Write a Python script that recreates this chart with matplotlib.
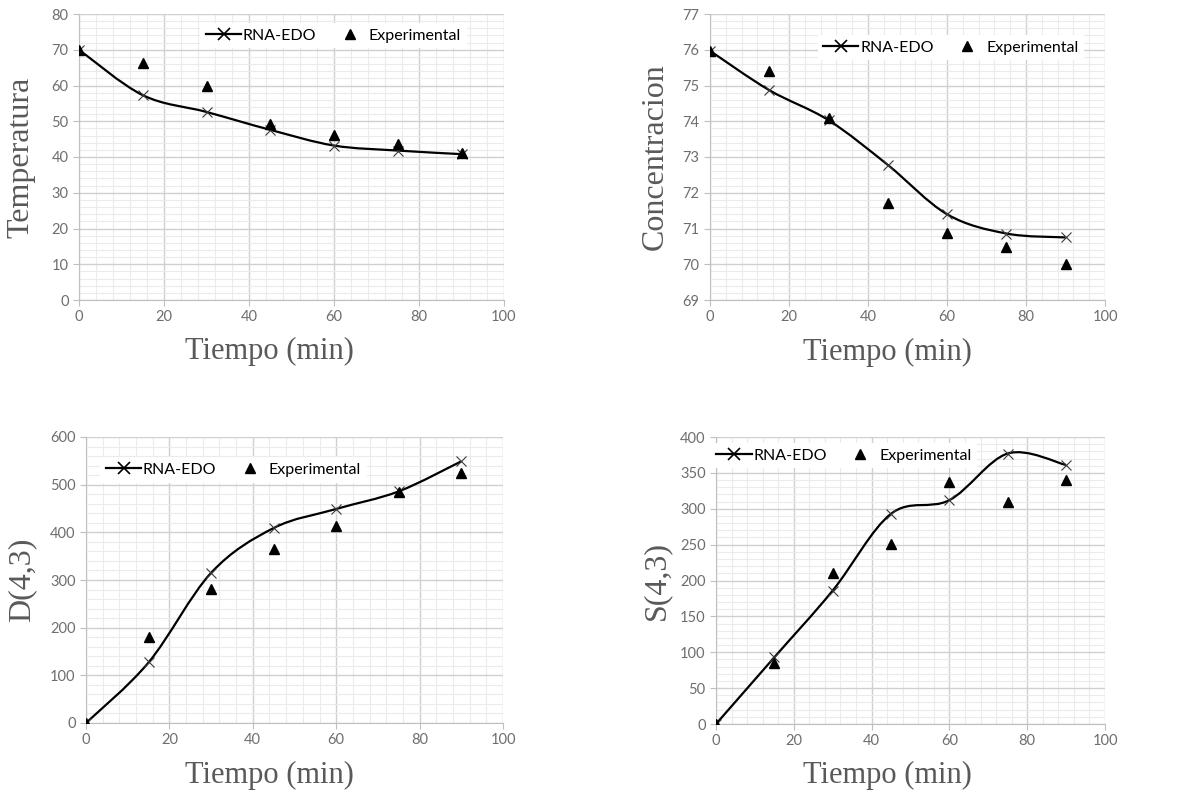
import numpy as np
import matplotlib.pyplot as plt
from matplotlib.path import Path
from matplotlib.patches import PathPatch
from matplotlib.lines import Line2D
from matplotlib.ticker import MultipleLocator, AutoMinorLocator

tiempo = [0, 15, 30, 45, 60, 75, 90]

temp_rna = [70, 57.3, 52.6, 47.6, 43.2, 41.8, 40.8]
temp_exp = [70, 66.2, 60.0, 49.1, 46.2, 43.6, 41.0]

conc_rna = [75.97, 74.87, 74.03, 72.78, 71.40, 70.86, 70.75]
conc_exp = [75.97, 75.40, 74.08, 71.70, 70.88, 70.49, 70.0]

d43_rna = [0, 127, 315, 409, 449, 486, 549]
d43_exp = [0, 180, 281, 364, 414, 485, 524]

s43_rna = [0, 93, 186, 293, 312, 377, 361]
s43_exp = [0, 85, 210, 251, 337, 310, 340]

W, H = 1202, 795
GRAY = '#595959'


def smooth_path(x, y):
    # Excel-style smoothed line: cubic Bezier segments (Catmull-Rom, tension 1/6)
    p = np.column_stack([x, y]).astype(float)
    ext = np.vstack([p[0], p, p[-1]])
    verts = [p[0]]
    codes = [Path.MOVETO]
    for i in range(len(p) - 1):
        p0, p1, p2, p3 = ext[i], ext[i + 1], ext[i + 2], ext[i + 3]
        c1 = p1 + (p2 - p0) / 6
        c2 = p2 - (p3 - p1) / 6
        verts += [c1, c2, p2]
        codes += [Path.CURVE4] * 3
    return Path(verts, codes)


def panel(box, yrng, ystep, ylabel, rna, exp, leg_xy, ylab_x, xlab_xy):
    l, t, r, b = box
    ax = fig.add_axes([l / W, 1 - b / H, (r - l) / W, (b - t) / H])
    ax.set_xlim(0, 100)
    ax.set_ylim(*yrng)
    ax.xaxis.set_major_locator(MultipleLocator(20))
    ax.yaxis.set_major_locator(MultipleLocator(ystep))
    ax.xaxis.set_minor_locator(AutoMinorLocator(5))
    ax.yaxis.set_minor_locator(AutoMinorLocator(5))
    ax.grid(which='major', color='#d0d0d0', lw=1.0)
    ax.grid(which='minor', color='#ebebeb', lw=0.8)
    ax.set_axisbelow(True)
    for s in ['top', 'right']:
        ax.spines[s].set_visible(False)
    for s in ['left', 'bottom']:
        ax.spines[s].set_color('#bfbfbf')
    ax.tick_params(which='major', colors='#bfbfbf', labelcolor='#6e6e6e',
                   labelsize=10.5, length=4)
    ax.tick_params(which='minor', length=0)
    for lab in ax.get_xticklabels() + ax.get_yticklabels():
        lab.set_fontfamily('Lato')

    ax.add_patch(PathPatch(smooth_path(tiempo, rna), fill=False,
                           edgecolor='black', lw=1.6, zorder=3))
    ax.plot(tiempo, rna, linestyle='none', marker='x', ms=7, mew=0.8,
            color='#3a3a3a', zorder=4)
    ax.plot(tiempo, exp, linestyle='none', marker='^', ms=6.5,
            color='black', zorder=5)

    handles = [Line2D([], [], color='black', lw=1.6, marker='x', ms=8, mew=1.2),
               Line2D([], [], linestyle='none', marker='^', ms=7, color='black')]
    leg = ax.legend(handles, ['RNA-EDO', 'Experimental'], ncol=2,
                    loc='center', bbox_to_anchor=leg_xy, frameon=True,
                    fancybox=False, edgecolor='white', framealpha=1,
                    prop={'family': 'Lato', 'size': 11.5},
                    handlelength=2.2, columnspacing=1.0, handletextpad=0.1,
                    borderpad=0.35)
    leg.get_frame().set_linewidth(0)

    ax.set_xlabel('Tiempo (min)', family='Liberation Serif', size=22,
                  color=GRAY, va='center')
    ax.xaxis.set_label_coords(*xlab_xy)
    ax.set_ylabel(ylabel, family='Liberation Serif', size=23,
                  color=GRAY, va='center')
    ax.yaxis.set_label_coords(ylab_x, 0.5)
    return ax


fig = plt.figure(figsize=(W / 100, H / 100), dpi=100)

panel((79, 14, 504, 300), (0, 80), 10, 'Temperatura', temp_rna, temp_exp,
      (0.599, 0.925), -0.136, (0.449, -0.18))
panel((710, 14, 1105, 300), (69, 77), 1, 'Concentracion', conc_rna, conc_exp,
      (0.61, 0.882), -0.139, (0.448, -0.185))
panel((86, 437, 503, 723), (0, 600), 100, 'D(4,3)', d43_rna, d43_exp,
      (0.354, 0.885), -0.153, (0.441, -0.182))
panel((716, 437, 1105, 724), (0, 400), 50, 'S(4,3)', s43_rna, s43_exp,
      (0.329, 0.935), -0.152, (0.44, -0.178))

fig.savefig('out.png', dpi=100)
